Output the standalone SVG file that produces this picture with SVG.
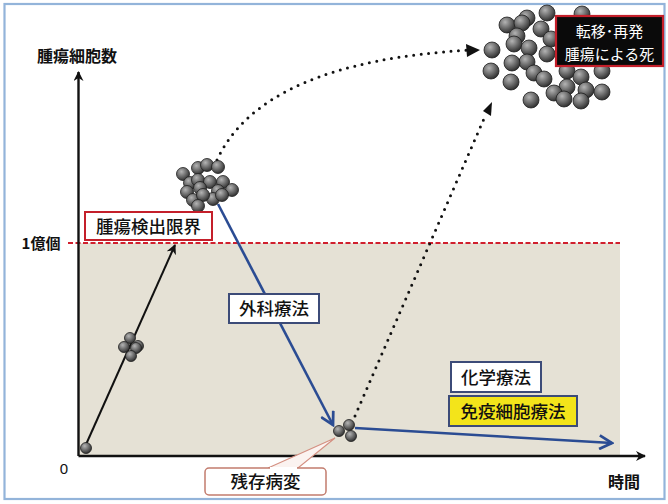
<svg xmlns="http://www.w3.org/2000/svg" width="668" height="504" viewBox="0 0 668 504">
  <defs>
    <radialGradient id="cellFill" cx="0.38" cy="0.32" r="0.7">
      <stop offset="0" stop-color="#b4b4b4"/>
      <stop offset="0.55" stop-color="#6a6a6a"/>
      <stop offset="1" stop-color="#2e2e2e"/>
    </radialGradient>
    <marker id="blackHead" viewBox="0 0 10 10" refX="9" refY="5" markerWidth="10" markerHeight="10" markerUnits="userSpaceOnUse" orient="auto">
      <path d="M0,0 L10,5 L0,10 L3,5 Z" fill="#111"/>
    </marker>
    <marker id="blueHead" viewBox="0 0 14 14" refX="12" refY="7" markerWidth="16" markerHeight="16" markerUnits="userSpaceOnUse" orient="auto">
      <path d="M1,1 L12,7 L1,13" fill="none" stroke="#2b4c93" stroke-width="2.4" stroke-linejoin="miter"/>
    </marker>
    <style>
      .jp { font-family: "Noto Sans CJK JP", "Noto Sans CJK SC", sans-serif; }
      .axis { stroke: #111; stroke-width: 2.4; fill: none; }
      .cell { fill: url(#cellFill); stroke: #1e1e1e; stroke-width: 0.8; }
      .dotted { fill: none; stroke: #111; stroke-width: 3; stroke-linecap: round; stroke-dasharray: 0 7.5; }
      .blue { fill: none; stroke: #2b4c93; stroke-width: 2.6; }
      .lbl { font-size: 17.5px; fill: #111; text-anchor: middle; font-weight: 500; }
    </style>
  </defs>

  <rect x="0" y="0" width="668" height="504" fill="#ffffff"/>
  <!-- outer frame -->
  <rect x="4.5" y="4" width="660" height="495" fill="none" stroke="#93b4da" stroke-width="2.2"/>

  <!-- zone below detection limit -->
  <rect x="79" y="243" width="541" height="212" fill="#e5e1d5"/>
  <line x1="68" y1="243" x2="620" y2="243" stroke="#d0202e" stroke-width="1.8" stroke-dasharray="5 2.5"/>

  <!-- axes -->
  <g id="axes">
    <line class="axis" x1="78.5" y1="456" x2="78.5" y2="72" marker-end="url(#blackHead)"/>
    <line class="axis" x1="78.5" y1="456" x2="645" y2="456" marker-end="url(#blackHead)"/>
    <text class="jp" x="77" y="62" font-size="16" font-weight="bold" text-anchor="middle" fill="#111">腫瘍細胞数</text>
    <text class="jp" x="41" y="249" font-size="15" font-weight="bold" text-anchor="middle" fill="#111">1億個</text>
    <text x="64" y="474" font-family="Liberation Sans, sans-serif" font-size="15" text-anchor="middle" fill="#111">0</text>
    <text class="jp" x="624" y="488" font-size="16" font-weight="bold" text-anchor="middle" fill="#111">時間</text>
  </g>

  <!-- connectors -->
  <g id="connectors">
    <line x1="84" y1="449" x2="175" y2="245" stroke="#111" stroke-width="2" marker-end="url(#blackHead)"/>
    <line class="blue" x1="218" y1="204" x2="333" y2="425" marker-end="url(#blueHead)"/>
    <line class="blue" x1="355" y1="428" x2="612" y2="443" marker-end="url(#blueHead)"/>
    <path class="dotted" d="M217,160 Q262,62 470,50"/>
    <path d="M466,44 L480,50 L467,57 Z" fill="#111"/>
    <line class="dotted" x1="355" y1="416" x2="486" y2="114"/>
    <path d="M483,111 L492,102 L491,116 Z" fill="#111"/>
  </g>

  <!-- single cell at origin -->
  <g id="cell-origin">
    <circle class="cell" cx="86" cy="448" r="5.5"/>
  </g>

  <!-- small cluster on growth line -->
  <g id="cluster-small">
    <circle class="cell" cx="130" cy="338" r="5.5"/>
    <circle class="cell" cx="124" cy="347" r="5.5"/>
    <circle class="cell" cx="138" cy="346" r="5.5"/>
    <circle class="cell" cx="136" cy="348" r="5.5"/>
    <circle class="cell" cx="131" cy="356" r="5.5"/>
  </g>

  <!-- detectable tumour cluster -->
  <g id="cluster-detect">
    <circle class="cell" cx="198" cy="168" r="6.5"/>
    <circle class="cell" cx="207" cy="165" r="6.5"/>
    <circle class="cell" cx="218" cy="167" r="6.5"/>
    <circle class="cell" cx="183" cy="174" r="6.5"/>
    <circle class="cell" cx="190" cy="183" r="6.5"/>
    <circle class="cell" cx="198" cy="180" r="6.5"/>
    <circle class="cell" cx="210" cy="182" r="6.5"/>
    <circle class="cell" cx="223" cy="182" r="6.5"/>
    <circle class="cell" cx="187" cy="192" r="6.5"/>
    <circle class="cell" cx="200" cy="188" r="6.5"/>
    <circle class="cell" cx="218" cy="191" r="6.5"/>
    <circle class="cell" cx="232" cy="190" r="6.5"/>
    <circle class="cell" cx="193" cy="200" r="6.5"/>
    <circle class="cell" cx="213" cy="199" r="6.5"/>
    <circle class="cell" cx="203" cy="195" r="6.5"/>
    <circle class="cell" cx="222" cy="195" r="6.5"/>
    <circle class="cell" cx="198" cy="206" r="6.5"/>
  </g>

  <!-- residual cluster -->
  <g id="cluster-residual">
    <circle class="cell" cx="339" cy="431" r="5.5"/>
    <circle class="cell" cx="349" cy="425" r="5.5"/>
    <circle class="cell" cx="351" cy="436" r="5.5"/>
  </g>

  <!-- metastatic cluster -->
  <g id="cluster-metastasis">
    <circle class="cell" cx="582" cy="14" r="8"/>
    <circle class="cell" cx="547" cy="13" r="8"/>
    <circle class="cell" cx="527" cy="18" r="8"/>
    <circle class="cell" cx="507" cy="25" r="8"/>
    <circle class="cell" cx="522" cy="23" r="8"/>
    <circle class="cell" cx="541" cy="29" r="8"/>
    <circle class="cell" cx="517" cy="36" r="8"/>
    <circle class="cell" cx="551" cy="39" r="8"/>
    <circle class="cell" cx="514" cy="44" r="8"/>
    <circle class="cell" cx="529" cy="48" r="8"/>
    <circle class="cell" cx="492" cy="50" r="8"/>
    <circle class="cell" cx="547" cy="54" r="8"/>
    <circle class="cell" cx="527" cy="62" r="8"/>
    <circle class="cell" cx="512" cy="63" r="8"/>
    <circle class="cell" cx="491" cy="71" r="8"/>
    <circle class="cell" cx="534" cy="73" r="8"/>
    <circle class="cell" cx="567" cy="71" r="8"/>
    <circle class="cell" cx="602" cy="71" r="8"/>
    <circle class="cell" cx="544" cy="79" r="8"/>
    <circle class="cell" cx="581" cy="77" r="8"/>
    <circle class="cell" cx="511" cy="82" r="8"/>
    <circle class="cell" cx="567" cy="87" r="8"/>
    <circle class="cell" cx="554" cy="93" r="8"/>
    <circle class="cell" cx="586" cy="90" r="8"/>
    <circle class="cell" cx="602" cy="92" r="8"/>
    <circle class="cell" cx="564" cy="99" r="8"/>
    <circle class="cell" cx="531" cy="100" r="8"/>
    <circle class="cell" cx="581" cy="101" r="8"/>
  </g>

  <!-- labels -->
  <g id="label-limit">
    <rect x="85" y="212" width="127" height="28" fill="#ffffff" stroke="#c41f2a" stroke-width="2"/>
    <text class="jp lbl" x="148.5" y="232.5" font-weight="normal">腫瘍検出限界</text>
  </g>

  <g id="label-surgery">
    <rect x="229" y="294" width="90" height="29" fill="#ffffff" stroke="#3c4b78" stroke-width="2"/>
    <text class="jp lbl" x="274" y="315">外科療法</text>
  </g>

  <g id="label-chemo">
    <rect x="451" y="362" width="90" height="30" fill="#ffffff" stroke="#3c4b78" stroke-width="2"/>
    <text class="jp lbl" x="496" y="383.5">化学療法</text>
  </g>

  <g id="label-immuno">
    <rect x="449" y="396" width="128" height="30" fill="#f3e41a" stroke="#3c4b78" stroke-width="2"/>
    <text class="jp lbl" x="513" y="417.5">免疫細胞療法</text>
  </g>

  <g id="label-residual">
    <path d="M268,468 L335,438 L298,468 Z" fill="#fbf3f0" stroke="#d49082" stroke-width="1.2"/>
    <rect x="205" y="468" width="121" height="27" rx="4" fill="#ffffff" stroke="#c27c6e" stroke-width="1.5"/>
    <line x1="270" y1="468" x2="297" y2="468" stroke="#ffffff" stroke-width="2"/>
    <text class="jp lbl" x="265.5" y="488" fill="#d0332a" font-weight="normal">残存病変</text>
  </g>

  <g id="label-death">
    <rect x="556" y="16" width="107" height="50" fill="#0a0a0a" stroke="#c41f2a" stroke-width="2.2"/>
    <text class="jp" x="609.5" y="37" font-size="15" fill="#ffffff" text-anchor="middle">転移･再発</text>
    <text class="jp" x="609.5" y="59.5" font-size="15" fill="#ffffff" text-anchor="middle">腫瘍による死</text>
  </g>
</svg>
